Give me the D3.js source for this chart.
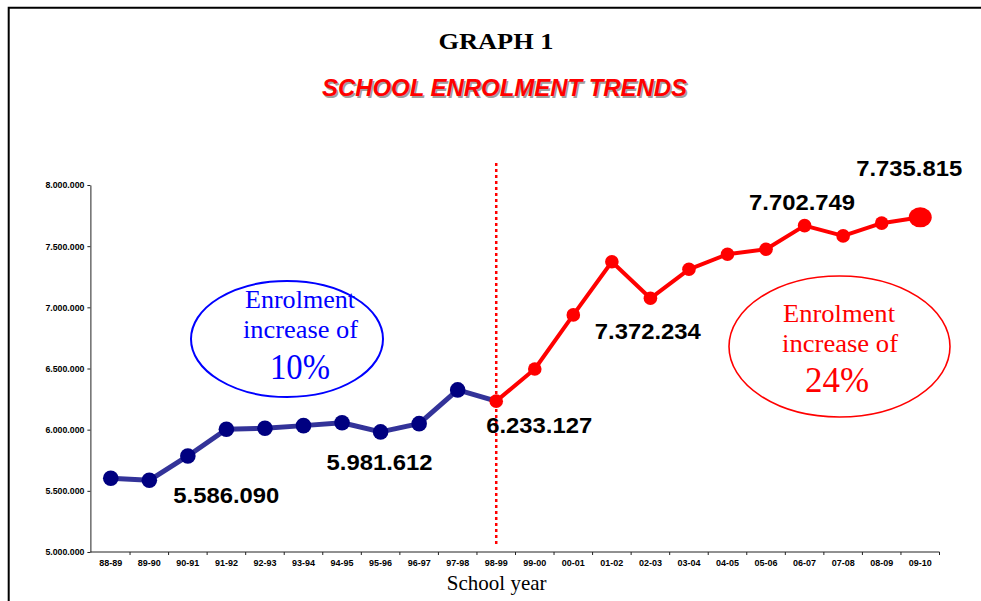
<!DOCTYPE html>
<html lang="en">
<head>
    <meta charset="UTF-8">
    <title>School enrolment trends</title>
    <script src="https://d3js.org/d3.v7.min.js"></script>
    <style>
        body { margin: 0; background: #fff; }
        svg { display: block; }
    </style>
</head>
<body>
    <div id="chart"></div>

    <script>
// School years on the x axis
var years = ["88-89", "89-90", "90-91", "91-92", "92-93", "93-94", "94-95", "95-96",
             "96-97", "97-98", "98-99", "99-00", "00-01", "01-02", "02-03", "03-04",
             "04-05", "05-06", "06-07", "07-08", "08-09", "09-10"];

// Enrolment per year (labelled ones exact)
var enrolment = [5603000, 5586090, 5785000, 6003000, 6011000, 6033000, 6057000, 5981612,
                 6049000, 6325000, 6233127, 6496000, 6938000, 7372234, 7074000, 7311000,
                 7434000, 7475000, 7668000, 7584000, 7688000, 7735815];

var yTicks = [5000000, 5500000, 6000000, 6500000, 7000000, 7500000, 8000000];

// the split year between the two periods
var splitYear = "98-99";

// value labels: which year and what text
var labelYears = ["89-90", "95-96", "98-99", "01-02", "06-07", "09-10"];
var labelTexts = ["5.586.090", "5.981.612", "6.233.127", "7.372.234", "7.702.749", "7.735.815"];
// offsets of each label from its point (layout only)
var labelOffsets = [[78, 23], [0, 38], [44, 32], [37, 77], [-1.5, -15.6], [-10, -41]];

var width = 981, height = 601;

var svg = d3.select("#chart").append("svg")
    .attr("width", width)
    .attr("height", height);

// frame (top and left edges)
svg.append("path")
    .attr("d", "M8.7,601V7.7H981")
    .attr("fill", "none")
    .attr("stroke", "#000")
    .attr("stroke-width", 2);

var x = d3.scaleBand().domain(years).range([91.5, 939.5]);
var y = d3.scaleLinear().domain([5000000, 8000000]).range([552, 185]);
var cx = function(d) { return x(d) + x.bandwidth() / 2; };

function addText(g, txt, px, py, size, opts) {
    var t = g.append("text")
        .attr("x", px).attr("y", py)
        .attr("text-anchor", "middle")
        .style("font-family", opts.family || "'Liberation Sans', Arial, sans-serif")
        .style("font-size", size + "px")
        .style("font-weight", opts.weight || "normal")
        .style("font-style", opts.italic ? "italic" : "normal")
        .attr("fill", opts.fill || "#000")
        .text(txt);
    if (opts.len) t.attr("textLength", opts.len).attr("lengthAdjust", "spacingAndGlyphs");
    return t;
}

// titles
addText(svg, "GRAPH 1", 496, 49, 23, {family: "'Liberation Serif', 'Times New Roman', serif", weight: "bold", len: 115});
addText(svg, "SCHOOL ENROLMENT TRENDS", 506, 97.5, 24, {weight: "bold", italic: true, fill: "#a0a0a0", len: 365});
addText(svg, "SCHOOL ENROLMENT TRENDS", 504.5, 96, 24, {weight: "bold", italic: true, fill: "#ff0000", len: 365});

// y axis
var yAxis = svg.append("g")
    .attr("transform", "translate(90.4,0)")
    .call(d3.axisLeft(y).tickValues(yTicks).tickSize(3).tickSizeOuter(0)
        .tickFormat(function(d) { return d3.format(",")(d).replace(/,/g, "."); }));
yAxis.select(".domain").attr("stroke", "#222");
yAxis.selectAll(".tick line").attr("stroke", "#222");
yAxis.selectAll(".tick text")
    .attr("x", -6)
    .attr("dy", "0.35em")
    .style("font-family", "'Liberation Sans', Arial, sans-serif")
    .style("font-size", "8.5px")
    .style("font-weight", "bold")
    .attr("textLength", 39)
    .attr("lengthAdjust", "spacingAndGlyphs");

// x axis: ticks sit between the years
var xAxis = svg.append("g")
    .attr("transform", "translate(0,552)")
    .call(d3.axisBottom(x).tickSize(0).tickSizeOuter(0));
xAxis.select(".domain").attr("stroke", "#222").attr("d", "M90.4,0H939.5");
xAxis.selectAll(".tick text")
    .attr("y", 11)
    .attr("dy", "0.35em")
    .style("font-family", "'Liberation Sans', Arial, sans-serif")
    .style("font-size", "8.5px")
    .style("font-weight", "bold")
    .attr("textLength", 23)
    .attr("lengthAdjust", "spacingAndGlyphs");
xAxis.selectAll(".band-tick")
    .data(years.slice(1).concat([null]))
    .enter().append("line")
    .attr("x1", function(d) { return d ? x(d) : x.range()[1]; })
    .attr("x2", function(d) { return d ? x(d) : x.range()[1]; })
    .attr("y1", 0).attr("y2", 3)
    .attr("stroke", "#222");

addText(svg, "School year", 496.7, 589.5, 21, {family: "'Liberation Serif', 'Times New Roman', serif"});

// dotted split line
svg.append("line")
    .attr("x1", cx(splitYear)).attr("x2", cx(splitYear))
    .attr("y1", 163).attr("y2", 546)
    .attr("stroke", "#ff0000")
    .attr("stroke-width", 2.5)
    .attr("stroke-dasharray", "3,3");

var pts = years.map(function(d, i) { return {year: d, value: enrolment[i]}; });
var split = years.indexOf(splitYear);
var first = pts.slice(0, split + 1);
var second = pts.slice(split);

var line = d3.line()
    .x(function(d) { return cx(d.year); })
    .y(function(d) { return y(d.value); });

// first period (blue)
svg.append("path")
    .datum(first)
    .attr("d", line)
    .attr("fill", "none")
    .attr("stroke", "#333399")
    .attr("stroke-width", 5)
    .attr("stroke-linejoin", "round");
svg.selectAll(".dot1")
    .data(first.slice(0, -1))
    .enter().append("circle")
    .attr("cx", function(d) { return cx(d.year); })
    .attr("cy", function(d) { return y(d.value); })
    .attr("r", 7.8)
    .attr("fill", "#000080");

// second period (red)
svg.append("path")
    .datum(second)
    .attr("d", line)
    .attr("fill", "none")
    .attr("stroke", "#ff0000")
    .attr("stroke-width", 4)
    .attr("stroke-linejoin", "round");
svg.selectAll(".dot2")
    .data(second.slice(0, -1))
    .enter().append("circle")
    .attr("cx", function(d) { return cx(d.year); })
    .attr("cy", function(d) { return y(d.value); })
    .attr("r", 6.8)
    .attr("fill", "#ff0000");
var last = second[second.length - 1];
svg.append("ellipse")
    .attr("cx", cx(last.year))
    .attr("cy", y(last.value))
    .attr("rx", 11.5).attr("ry", 10)
    .attr("fill", "#ff0000");

// value labels
labelYears.forEach(function(yr, i) {
    var v = enrolment[years.indexOf(yr)];
    addText(svg, labelTexts[i], cx(yr) + labelOffsets[i][0] - 1, y(v) + labelOffsets[i][1], 22,
        {weight: "bold", len: 106});
});

// callout ellipses
var serif = "'Liberation Serif', 'Times New Roman', serif";
svg.append("ellipse")
    .attr("cx", 287).attr("cy", 339).attr("rx", 96).attr("ry", 58)
    .attr("fill", "none").attr("stroke", "#0000ff").attr("stroke-width", 2);
addText(svg, "Enrolment", 300, 308, 25, {family: serif, fill: "#0000ff", len: 110});
addText(svg, "increase of", 300.5, 338, 25, {family: serif, fill: "#0000ff", len: 115});
addText(svg, "10%", 300, 379, 35, {family: serif, fill: "#0000ff", len: 60});

svg.append("ellipse")
    .attr("cx", 839.5).attr("cy", 346.5).attr("rx", 110.5).attr("ry", 70.5)
    .attr("fill", "none").attr("stroke", "#ff0000").attr("stroke-width", 1.6);
addText(svg, "Enrolment", 839, 322, 25, {family: serif, fill: "#ff0000", len: 112});
addText(svg, "increase of", 840, 352, 25, {family: serif, fill: "#ff0000", len: 116});
addText(svg, "24%", 837, 392, 35, {family: serif, fill: "#ff0000", len: 64});
    </script>
</body>
</html>
